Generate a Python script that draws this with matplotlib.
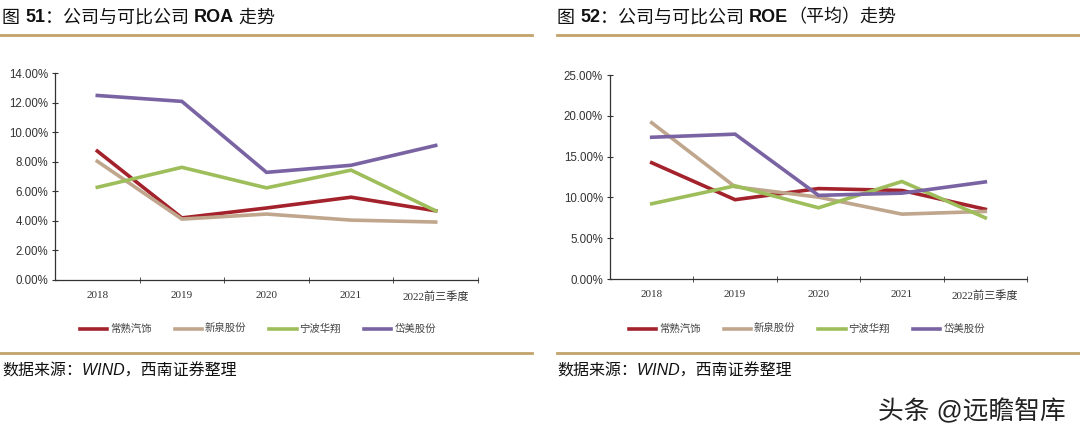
import matplotlib
matplotlib.use("Agg")
import matplotlib.pyplot as plt
from matplotlib.ticker import FixedLocator, PercentFormatter

CJK = ['Liberation Sans', 'Noto Sans CJK SC', 'DejaVu Sans']
SERIF = ['Liberation Serif', 'Noto Sans CJK SC', 'DejaVu Sans']
plt.rcParams['font.family'] = CJK

categories = ['2018', '2019', '2020', '2021', '2022前三季度']
companies = ['常熟汽饰', '新泉股份', '宁波华翔', '岱美股份']
colors = ['#A3222B', '#BFA68C', '#9DBE5A', '#7A63A3']

roa_csqs = [8.72, 4.20, 4.87, 5.60, 4.68]
roa_xqgf = [8.03, 4.12, 4.46, 4.05, 3.92]
roa_nbhx = [6.27, 7.62, 6.23, 7.43, 4.68]
roa_dmgf = [12.48, 12.08, 7.28, 7.76, 9.10]

roe_csqs = [14.25, 9.72, 11.08, 10.85, 8.55]
roe_xqgf = [19.15, 11.30, 10.03, 7.95, 8.28]
roe_nbhx = [9.22, 11.42, 8.73, 11.95, 7.50]
roe_dmgf = [17.37, 17.75, 10.25, 10.52, 11.90]

roa_ticks = [0, 2, 4, 6, 8, 10, 12, 14]
roe_ticks = [0, 5, 10, 15, 20, 25]

# title pieces: (text, bold?)
title_roa = [('图 ', False), ('51', True), ('：公司与可比公司 ', False), ('ROA', True), (' 走势', False)]
title_roe = [('图 ', False), ('52', True), ('：公司与可比公司 ', False), ('ROE', True), ('（平均）走势', False)]
source = '数据来源：WIND，西南证券整理'
watermark = '头条 @远瞻智库'

W, H = 1080, 437
fig = plt.figure(figsize=(W / 100, H / 100), dpi=100)
renderer = fig.canvas.get_renderer()
gold = '#C2A36B'

def ax_rect(x0, y0, x1, y1):
    return [x0 / W, 1 - y1 / H, (x1 - x0) / W, (y1 - y0) / H]

def draw_title(x_px, y_px, pieces):
    x = x_px
    for txt, bold in pieces:
        t = fig.text(x / W, 1 - y_px / H, txt, fontsize=13,
                     weight='bold' if bold else 'normal', va='center', ha='left',
                     color='#111111')
        x += t.get_window_extent(renderer).width

panels = [
    dict(rect=ax_rect(55, 73, 478, 280), series=[roa_csqs, roa_xqgf, roa_nbhx, roa_dmgf],
         ticks=roa_ticks, title=title_roa, title_x=2, line=(0, 532), legend_x=258),
    dict(rect=ax_rect(610, 75, 1027, 279), series=[roe_csqs, roe_xqgf, roe_nbhx, roe_dmgf],
         ticks=roe_ticks, title=title_roe, title_x=557, line=(557, 1080), legend_x=807),
]

for p in panels:
    ax = fig.add_axes(p['rect'])
    x = list(range(len(categories)))
    handles = []
    for vals, name, c in zip(p['series'], companies, colors):
        h, = ax.plot(x, vals, color=c, lw=2.6, label=name, solid_joinstyle='miter')
        handles.append(h)
    ax.set_xlim(-0.5, len(categories) - 0.5)
    ax.set_ylim(p['ticks'][0], p['ticks'][-1])
    ax.yaxis.set_major_locator(FixedLocator(p['ticks']))
    ax.yaxis.set_major_formatter(PercentFormatter(decimals=2))
    ax.set_xticks(x)
    ax.set_xticklabels(categories, family=SERIF, fontsize=8, color='#333333')
    ax.xaxis.set_minor_locator(FixedLocator([i + 0.5 for i in range(len(categories))]))
    ax.tick_params(axis='x', which='major', length=0, pad=8)
    ax.tick_params(axis='x', which='minor', length=4, direction='inout', color='#333333')
    ax.tick_params(axis='y', length=4, direction='inout', labelsize=8.3, colors='#333333', pad=3)
    for s in ['top', 'right']:
        ax.spines[s].set_visible(False)
    for s in ['left', 'bottom']:
        ax.spines[s].set_color('#333333')
        ax.spines[s].set_linewidth(0.9)
    ax.set_facecolor('none')

    draw_title(p['title_x'], 18, p['title'])
    fig.add_artist(plt.Line2D([p['line'][0] / W, p['line'][1] / W], [1 - 35 / H] * 2,
                              color=gold, lw=2))
    fig.add_artist(plt.Line2D([p['line'][0] / W, p['line'][1] / W], [1 - 353 / H] * 2,
                              color=gold, lw=2))
    fig.legend(handles=handles, loc='center', bbox_to_anchor=(p['legend_x'] / W, 1 - 329 / H),
               ncol=4, frameon=False, fontsize=7.5, handlelength=2.6, handletextpad=0.3,
               columnspacing=2.2, labelcolor='#444444')
    fig.text(p['title_x'] / W, 1 - 371 / H, source, fontsize=11.5, style='italic',
             va='center', ha='left', color='#111111')

fig.text(1066 / W, 1 - 410 / H, watermark, fontsize=18.5, ha='right', va='center',
         color='#222222')

fig.savefig('out.png', dpi=100)
